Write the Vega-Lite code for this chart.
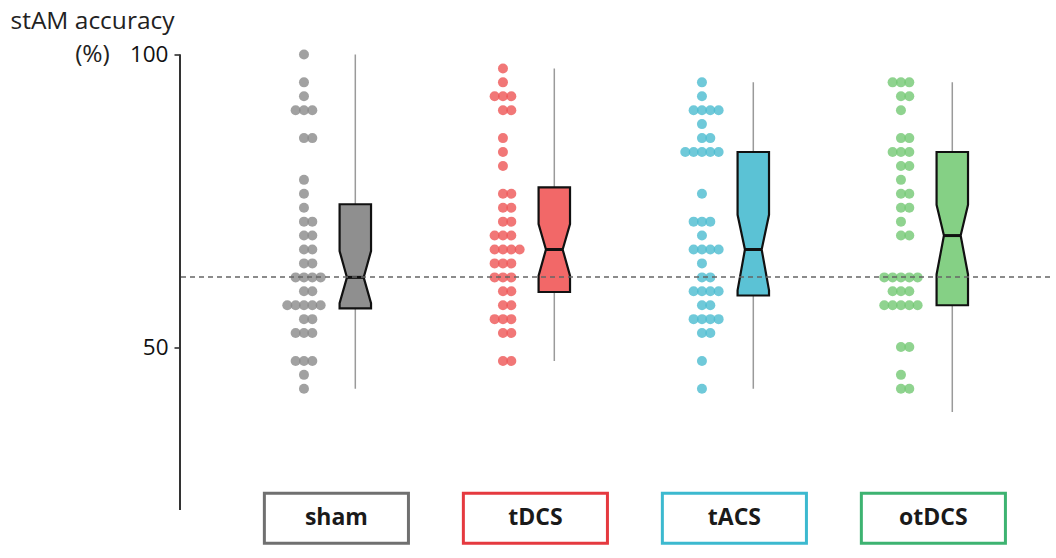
{
  "$schema": "https://vega.github.io/schema/vega-lite/v6.json",
  "width": 870,
  "height": 491.4,
  "autosize": {"type": "none"},
  "padding": {"left": 180, "top": 54.5, "right": 6, "bottom": 12.1},
  "background": "white",
  "config": {"view": {"stroke": null}, "font": "Open Sans"},
  "resolve": {"axis": {"y": "independent", "x": "independent"}},
  "datasets": {
    "points": [
      {"g":"sham","v":100},{"g":"sham","v":95.24},{"g":"sham","v":92.86},
      {"g":"sham","v":90.48},{"g":"sham","v":90.48},{"g":"sham","v":90.48},
      {"g":"sham","v":85.71},{"g":"sham","v":85.71},
      {"g":"sham","v":78.57},{"g":"sham","v":76.19},{"g":"sham","v":73.81},
      {"g":"sham","v":71.43},{"g":"sham","v":71.43},
      {"g":"sham","v":69.05},{"g":"sham","v":69.05},
      {"g":"sham","v":66.67},{"g":"sham","v":66.67},
      {"g":"sham","v":64.29},{"g":"sham","v":64.29},
      {"g":"sham","v":61.9},{"g":"sham","v":61.9},{"g":"sham","v":61.9},{"g":"sham","v":61.9},
      {"g":"sham","v":59.52},{"g":"sham","v":59.52},
      {"g":"sham","v":57.14},{"g":"sham","v":57.14},{"g":"sham","v":57.14},{"g":"sham","v":57.14},{"g":"sham","v":57.14},
      {"g":"sham","v":54.76},{"g":"sham","v":54.76},
      {"g":"sham","v":52.38},{"g":"sham","v":52.38},{"g":"sham","v":52.38},
      {"g":"sham","v":47.62},{"g":"sham","v":47.62},{"g":"sham","v":47.62},
      {"g":"sham","v":45.24},{"g":"sham","v":42.86},

      {"g":"tDCS","v":97.62},{"g":"tDCS","v":95.24},
      {"g":"tDCS","v":92.86},{"g":"tDCS","v":92.86},{"g":"tDCS","v":92.86},
      {"g":"tDCS","v":90.48},{"g":"tDCS","v":90.48},
      {"g":"tDCS","v":85.71},{"g":"tDCS","v":83.33},{"g":"tDCS","v":80.95},
      {"g":"tDCS","v":76.19},{"g":"tDCS","v":76.19},
      {"g":"tDCS","v":73.81},{"g":"tDCS","v":73.81},
      {"g":"tDCS","v":71.43},{"g":"tDCS","v":71.43},
      {"g":"tDCS","v":69.05},{"g":"tDCS","v":69.05},{"g":"tDCS","v":69.05},
      {"g":"tDCS","v":66.67},{"g":"tDCS","v":66.67},{"g":"tDCS","v":66.67},{"g":"tDCS","v":66.67},
      {"g":"tDCS","v":64.29},{"g":"tDCS","v":64.29},{"g":"tDCS","v":64.29},
      {"g":"tDCS","v":61.9},{"g":"tDCS","v":61.9},{"g":"tDCS","v":61.9},
      {"g":"tDCS","v":59.52},{"g":"tDCS","v":59.52},
      {"g":"tDCS","v":57.14},{"g":"tDCS","v":57.14},
      {"g":"tDCS","v":54.76},{"g":"tDCS","v":54.76},{"g":"tDCS","v":54.76},
      {"g":"tDCS","v":52.38},{"g":"tDCS","v":52.38},
      {"g":"tDCS","v":47.62},{"g":"tDCS","v":47.62},

      {"g":"tACS","v":95.24},{"g":"tACS","v":92.86},
      {"g":"tACS","v":90.48},{"g":"tACS","v":90.48},{"g":"tACS","v":90.48},{"g":"tACS","v":90.48},
      {"g":"tACS","v":88.1},
      {"g":"tACS","v":85.71},{"g":"tACS","v":85.71},
      {"g":"tACS","v":83.33},{"g":"tACS","v":83.33},{"g":"tACS","v":83.33},{"g":"tACS","v":83.33},{"g":"tACS","v":83.33},
      {"g":"tACS","v":76.19},
      {"g":"tACS","v":71.43},{"g":"tACS","v":71.43},{"g":"tACS","v":71.43},
      {"g":"tACS","v":69.05},
      {"g":"tACS","v":66.67},{"g":"tACS","v":66.67},{"g":"tACS","v":66.67},{"g":"tACS","v":66.67},
      {"g":"tACS","v":64.29},
      {"g":"tACS","v":61.9},{"g":"tACS","v":61.9},
      {"g":"tACS","v":59.52},{"g":"tACS","v":59.52},{"g":"tACS","v":59.52},{"g":"tACS","v":59.52},
      {"g":"tACS","v":57.14},{"g":"tACS","v":57.14},
      {"g":"tACS","v":54.76},{"g":"tACS","v":54.76},{"g":"tACS","v":54.76},{"g":"tACS","v":54.76},
      {"g":"tACS","v":52.38},{"g":"tACS","v":52.38},
      {"g":"tACS","v":47.62},{"g":"tACS","v":42.86},

      {"g":"otDCS","v":95.24},{"g":"otDCS","v":95.24},{"g":"otDCS","v":95.24},
      {"g":"otDCS","v":92.86},{"g":"otDCS","v":92.86},
      {"g":"otDCS","v":90.48},
      {"g":"otDCS","v":85.71},{"g":"otDCS","v":85.71},
      {"g":"otDCS","v":83.33},{"g":"otDCS","v":83.33},{"g":"otDCS","v":83.33},
      {"g":"otDCS","v":80.95},{"g":"otDCS","v":80.95},
      {"g":"otDCS","v":78.57},
      {"g":"otDCS","v":76.19},{"g":"otDCS","v":76.19},
      {"g":"otDCS","v":73.81},{"g":"otDCS","v":73.81},
      {"g":"otDCS","v":71.43},
      {"g":"otDCS","v":69.05},{"g":"otDCS","v":69.05},
      {"g":"otDCS","v":61.9},{"g":"otDCS","v":61.9},{"g":"otDCS","v":61.9},{"g":"otDCS","v":61.9},{"g":"otDCS","v":61.9},
      {"g":"otDCS","v":59.52},{"g":"otDCS","v":59.52},{"g":"otDCS","v":59.52},
      {"g":"otDCS","v":57.14},{"g":"otDCS","v":57.14},{"g":"otDCS","v":57.14},{"g":"otDCS","v":57.14},{"g":"otDCS","v":57.14},
      {"g":"otDCS","v":50.0},{"g":"otDCS","v":50.0},
      {"g":"otDCS","v":45.24},
      {"g":"otDCS","v":42.86},{"g":"otDCS","v":42.86}
    ],
    "boxes": [
      {"g":"sham","lo":42.86,"q1":56.6,"nlo":57.5,"med":61.9,"nhi":66.4,"q3":74.4,"hi":100},
      {"g":"tDCS","lo":47.62,"q1":59.4,"nlo":62.2,"med":66.67,"nhi":71.0,"q3":77.3,"hi":97.62},
      {"g":"tACS","lo":42.86,"q1":58.8,"nlo":59.7,"med":66.67,"nhi":72.6,"q3":83.33,"hi":95.24},
      {"g":"otDCS","lo":38.9,"q1":57.14,"nlo":62.4,"med":69.05,"nhi":74.3,"q3":83.33,"hi":95.24}
    ],
    "groups": [{"g":"sham"},{"g":"tDCS"},{"g":"tACS"},{"g":"otDCS"}]
  },
  "layer": [
    {
      "data": {"name": "points"},
      "transform": [
        {"window": [{"op": "row_number", "as": "rn"}], "groupby": ["g", "v"]},
        {"calculate": "indexof(['sham','tDCS','tACS','otDCS'], datum.g)", "as": "gi"},
        {"calculate": "(datum.rn - 1) % 2 == 1 ? datum.rn / 2 : -(datum.rn - 1) / 2", "as": "off"},
        {"calculate": "datum.gi + datum.off * 0.0419", "as": "xd"}
      ],
      "mark": {"type": "circle", "size": 100, "opacity": 0.8},
      "encoding": {
        "x": {"field": "xd", "type": "quantitative", "scale": {"domain": [-0.623, 3.749], "nice": false, "zero": false}, "axis": null},
        "y": {"field": "v", "type": "quantitative", "scale": {"domain": [16, 100], "nice": false, "zero": false},
          "axis": {"values": [50, 100], "domain": false, "grid": false, "ticks": true, "tickSize": 6, "tickColor": "#222", "tickWidth": 1.5,
            "labelFont": "Open Sans", "labelFontSize": 22.5, "labelColor": "#111", "labelPadding": 6,
            "title": ["stAM accuracy", "(%)"], "titleAngle": 0, "titleAlign": "center", "titleBaseline": "alphabetic",
            "titleX": -88, "titleY": -26.5, "titleFont": "Open Sans", "titleFontSize": 24.5, "titleFontWeight": "normal",
            "titleColor": "#222", "titleLineHeight": 33}},
        "color": {"field": "g", "type": "nominal", "legend": null,
          "scale": {"domain": ["sham","tDCS","tACS","otDCS"], "range": ["#8a8a8a","#ee5555","#4bbbd0","#73c873"]}}
      }
    },
    {
      "data": {"name": "boxes"},
      "transform": [
        {"calculate": "indexof(['sham','tDCS','tACS','otDCS'], datum.g) + 0.258", "as": "bc"}
      ],
      "mark": {"type": "rule", "color": "#9a9a9a", "strokeWidth": 1.5},
      "encoding": {
        "x": {"field": "bc", "type": "quantitative", "axis": null},
        "y": {"field": "lo", "type": "quantitative", "axis": null},
        "y2": {"field": "hi"}
      }
    },
    {
      "data": {"name": "boxes"},
      "transform": [
        {"calculate": "indexof(['sham','tDCS','tACS','otDCS'], datum.g) + 0.258", "as": "bc"},
        {"fold": ["q3", "nhi", "med", "nlo", "q1"], "as": ["k", "yv"]},
        {"calculate": "datum.k == 'med' ? 0.037 : 0", "as": "ins"},
        {"calculate": "datum.bc - 0.079 + datum.ins", "as": "xa"},
        {"calculate": "datum.bc + 0.079 - datum.ins", "as": "xb"}
      ],
      "mark": {"type": "area", "orient": "horizontal", "stroke": "#111", "strokeWidth": 2.2, "opacity": 1, "strokeJoin": "miter"},
      "encoding": {
        "y": {"field": "yv", "type": "quantitative", "axis": null},
        "x": {"field": "xa", "type": "quantitative", "axis": null, "stack": null},
        "x2": {"field": "xb"},
        "fill": {"field": "g", "type": "nominal", "legend": null,
          "scale": {"domain": ["sham","tDCS","tACS","otDCS"], "range": ["#8f8f8f","#f26868","#5bc2d5","#85d085"]}}
      }
    },
    {
      "data": {"name": "boxes"},
      "transform": [
        {"calculate": "indexof(['sham','tDCS','tACS','otDCS'], datum.g) + 0.258", "as": "bc"},
        {"calculate": "datum.bc - 0.079 + 0.037", "as": "xa"},
        {"calculate": "datum.bc + 0.079 - 0.037", "as": "xb"}
      ],
      "mark": {"type": "rule", "color": "#111", "strokeWidth": 3},
      "encoding": {
        "x": {"field": "xa", "type": "quantitative", "axis": null},
        "x2": {"field": "xb"},
        "y": {"field": "med", "type": "quantitative", "axis": null}
      }
    },
    {
      "data": {"name": "groups"},
      "transform": [
        {"calculate": "indexof(['sham','tDCS','tACS','otDCS'], datum.g) + 0.163", "as": "lc"},
        {"calculate": "datum.lc - 0.362", "as": "lx1"},
        {"calculate": "datum.lc + 0.362", "as": "lx2"}
      ],
      "mark": {"type": "rect", "fill": "white", "strokeWidth": 3},
      "encoding": {
        "x": {"field": "lx1", "type": "quantitative", "axis": null},
        "x2": {"field": "lx2"},
        "y": {"datum": 25.0, "type": "quantitative", "axis": null},
        "y2": {"datum": 16.45},
        "stroke": {"field": "g", "type": "nominal", "legend": null,
          "scale": {"domain": ["sham","tDCS","tACS","otDCS"], "range": ["#707070","#e5393f","#3cb9cf","#3db371"]}}
      }
    },
    {
      "data": {"name": "groups"},
      "transform": [
        {"calculate": "indexof(['sham','tDCS','tACS','otDCS'], datum.g) + 0.163", "as": "lc"}
      ],
      "mark": {"type": "text", "font": "Open Sans", "fontSize": 23, "fontWeight": "bold", "color": "#1a1a1a", "align": "center", "baseline": "middle"},
      "encoding": {
        "x": {"field": "lc", "type": "quantitative", "axis": null},
        "y": {"datum": 20.75, "type": "quantitative", "axis": null},
        "text": {"field": "g"}
      }
    },
    {
      "data": {"values": [{}]},
      "mark": {"type": "rule", "color": "#666", "strokeWidth": 1.5, "strokeDash": [5, 4]},
      "encoding": {
        "y": {"datum": 61.97, "type": "quantitative", "axis": null}
      }
    },
    {
      "data": {"values": [{}]},
      "mark": {"type": "rule", "color": "#333", "strokeWidth": 2},
      "encoding": {
        "x": {"datum": -0.623, "type": "quantitative", "axis": null},
        "y": {"datum": 100, "type": "quantitative", "axis": null},
        "y2": {"datum": 22.14}
      }
    }
  ]
}
